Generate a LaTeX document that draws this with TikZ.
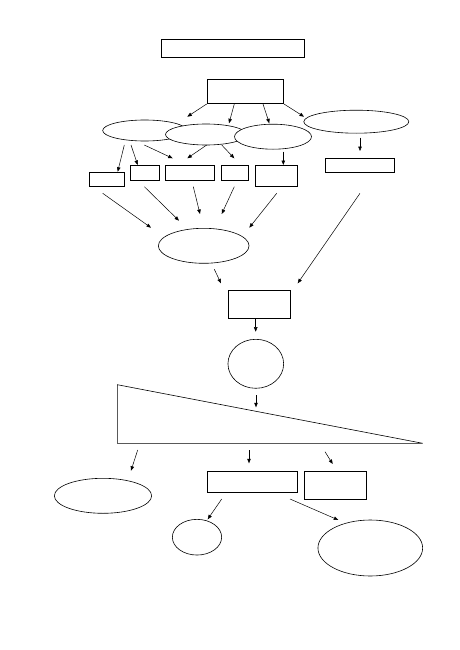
\documentclass[tikz,border=0pt]{standalone}
\usetikzlibrary{arrows.meta, shapes.geometric}

\begin{document}
\begin{tikzpicture}[
    x=1pt, y=-1pt, line width=0.6pt,
    rbox/.style={draw, fill=white, inner sep=0pt},
    oval/.style={draw, fill=white, ellipse, inner sep=0pt},
    arr/.style={-{Triangle[length=4.5pt, width=3.5pt]}, line width=0.5pt}
]
    \useasboundingbox (0,0) rectangle (459,650);

    % top part
    \node[rbox, minimum width=143pt, minimum height=18pt] (title) at (232.5,48) {};
    \node[rbox, minimum width=76pt, minimum height=24pt] (src) at (245,91) {};

    \node[oval, minimum width=84pt, minimum height=21pt] (e1) at (144.7,130.5) {};
    \node[oval, minimum width=81pt, minimum height=21pt] (e2) at (206,134.5) {};
    \node[oval, minimum width=77pt, minimum height=25pt] (e3) at (273,136.7) {};
    \node[oval, minimum width=105pt, minimum height=23pt] (e4) at (356.3,121.7) {};

    \node[rbox, minimum width=35pt, minimum height=14.4pt] (r1) at (106.7,179.5) {};
    \node[rbox, minimum width=28.3pt, minimum height=14.7pt] (r2) at (144.8,172.7) {};
    \node[rbox, minimum width=49.4pt, minimum height=14.7pt] (r3) at (190,172.7) {};
    \node[rbox, minimum width=27.7pt, minimum height=14.7pt] (r4) at (234.8,172.7) {};
    \node[rbox, minimum width=41.6pt, minimum height=21.4pt] (r5) at (276.5,176) {};
    \node[rbox, minimum width=69.4pt, minimum height=14.4pt] (r6) at (360,165.5) {};

    % middle part
    \node[oval, minimum width=90.7pt, minimum height=35pt] (hub) at (203.7,245.8) {};
    \node[rbox, minimum width=62.7pt, minimum height=28pt] (mid) at (259.3,304.7) {};
    \node[oval, minimum width=55.7pt, minimum height=49pt] (circ) at (255.8,363.8) {};

    \coordinate (tA) at (117.3,384.7);
    \coordinate (tB) at (117.3,443.3);
    \coordinate (tC) at (422.7,443.3);
    \draw (tA) -- (tB) -- (tC) -- cycle;

    % bottom part
    \node[oval, minimum width=97.3pt, minimum height=35pt] (left) at (103,495.8) {};
    \node[rbox, minimum width=90.3pt, minimum height=21.3pt] (bm) at (252.2,481.7) {};
    \node[rbox, minimum width=62.4pt, minimum height=28.3pt] (br) at (335.5,485.2) {};
    \node[oval, minimum width=49.3pt, minimum height=35.7pt] (small) at (197,537.2) {};
    \node[oval, minimum width=104.7pt, minimum height=56pt] (big) at (370.3,548) {};

    % arrow ends
    \path (206.7,104) coordinate (s1a) (187.3,116.7) coordinate (s1b)
          (234.3,104) coordinate (s2a) (229,123.3) coordinate (s2b)
          (263,104) coordinate (s3a) (269.3,123.3) coordinate (s3b)
          (284,104) coordinate (s4a) (304,116.7) coordinate (s4b);
    \path (124.3,145) coordinate (e1a) (117.7,171.7) coordinate (e1b)
          (131,145) coordinate (e1c) (137.7,165) coordinate (e1d)
          (144.3,145) coordinate (e1e) (172.7,158.3) coordinate (e1f)
          (206.7,145) coordinate (e2a) (187.3,158.3) coordinate (e2b)
          (221.7,145) coordinate (e2c) (234.3,158.3) coordinate (e2d)
          (283.3,151.7) coordinate (e3a) (283.3,165) coordinate (e3b)
          (360,137.7) coordinate (e4a) (360,151) coordinate (e4b);
    \path (102.7,193.3) coordinate (r1a) (151,227.7) coordinate (r1b)
          (144.3,186.7) coordinate (r2a) (179,220.7) coordinate (r2b)
          (193.3,186.7) coordinate (r3a) (200,214) coordinate (r3b)
          (234.3,186.7) coordinate (r4a) (221.7,214) coordinate (r4b)
          (276.7,193.3) coordinate (r5a) (249.3,227.7) coordinate (r5b)
          (360,193.3) coordinate (r6a) (297.7,283.3) coordinate (r6b);
    \path (214.3,269.3) coordinate (h1a) (221,283.3) coordinate (h1b)
          (255.7,318.7) coordinate (m1a) (255.7,331.7) coordinate (m1b)
          (256,395) coordinate (c1a) (256,407.3) coordinate (c1b);
    \path (137.7,450) coordinate (t1a) (131,470.7) coordinate (t1b)
          (249,450) coordinate (t2a) (249,463.3) coordinate (t2b)
          (325,451.7) coordinate (t3a) (332.7,464) coordinate (t3b)
          (221.7,499) coordinate (b1a) (207.7,519.3) coordinate (b1b)
          (290,499) coordinate (b2a) (338.3,520) coordinate (b2b);

    \draw[arr] (s1a) -- (s1b);
    \draw[arr] (s2a) -- (s2b);
    \draw[arr] (s3a) -- (s3b);
    \draw[arr] (s4a) -- (s4b);

    \draw[arr] (e1a) -- (e1b);
    \draw[arr] (e1c) -- (e1d);
    \draw[arr] (e1e) -- (e1f);
    \draw[arr] (e2a) -- (e2b);
    \draw[arr] (e2c) -- (e2d);
    \draw[arr] (e3a) -- (e3b);
    \draw[arr] (e4a) -- (e4b);

    \draw[arr] (r1a) -- (r1b);
    \draw[arr] (r2a) -- (r2b);
    \draw[arr] (r3a) -- (r3b);
    \draw[arr] (r4a) -- (r4b);
    \draw[arr] (r5a) -- (r5b);
    \draw[arr] (r6a) -- (r6b);

    \draw[arr] (h1a) -- (h1b);
    \draw[arr] (m1a) -- (m1b);
    \draw[arr] (c1a) -- (c1b);

    \draw[arr] (t1a) -- (t1b);
    \draw[arr] (t2a) -- (t2b);
    \draw[arr] (t3a) -- (t3b);
    \draw[arr] (b1a) -- (b1b);
    \draw[arr] (b2a) -- (b2b);
\end{tikzpicture}
\end{document}
